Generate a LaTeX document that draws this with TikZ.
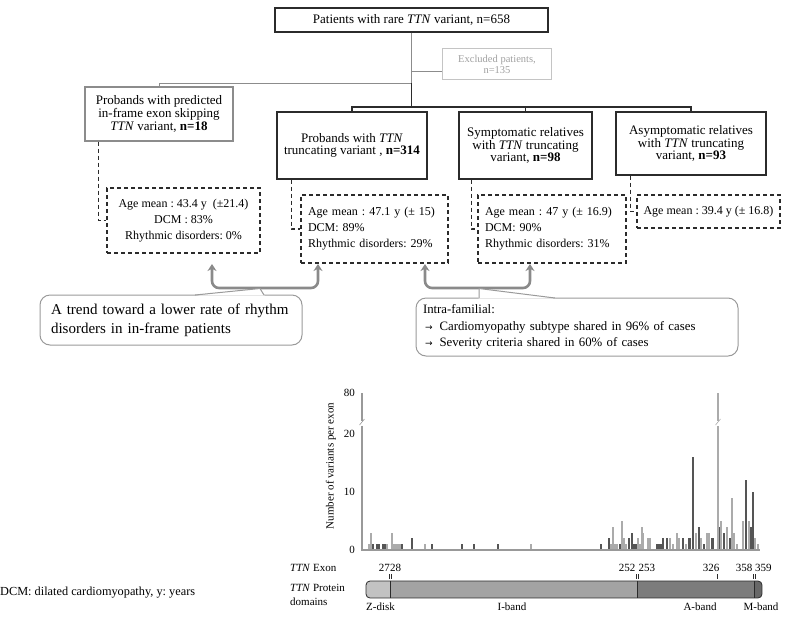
\documentclass[tikz,border=0pt]{standalone}
\usepackage{fontspec}
\setmainfont{Liberation Serif}
\newfontfamily\symfont{DejaVu Sans}
\usetikzlibrary{arrows.meta}
\frenchspacing
\definecolor{dk}{HTML}{2B2B2B}
\definecolor{gln}{HTML}{8C8C8C}
\definecolor{exb}{HTML}{C4C4C4}
\definecolor{ext}{HTML}{A0A0A0}
\definecolor{garr}{HTML}{8A8A8A}
\definecolor{cbd}{HTML}{9A9A9A}
\definecolor{barl}{HTML}{ABABAB}
\definecolor{bard}{HTML}{555555}
\definecolor{axc}{HTML}{999999}
\definecolor{zd}{HTML}{C2C2C2}
\definecolor{ib}{HTML}{A3A3A3}
\definecolor{ab}{HTML}{7C7C7C}
\definecolor{mb}{HTML}{686868}
\begin{document}
\begin{tikzpicture}[x=1pt,y=-1pt,
  solidbox/.style={draw=dk, line width=1.1pt, fill=white, align=center, inner sep=0pt, font=\fontsize{13}{12.7}\selectfont},
  graybox/.style={solidbox, draw=gln},
  exbox/.style={draw=exb, line width=1pt, align=center, inner sep=0pt, text=ext, font=\fontsize{10.5}{11}\selectfont},
  dbox/.style={draw=dk, line width=1.1pt, dash pattern=on 4pt off 3pt, inner sep=0pt, font=\fontsize{12}{16}\selectfont},
  dconn/.style={draw=dk, line width=1.1pt, dash pattern=on 4pt off 3pt},
  gline/.style={draw=gln, line width=1pt},
  kline/.style={draw=dk, line width=1.1pt},
  garrow/.style={draw=garr, line width=2.6pt, rounded corners=7pt, {Stealth[length=7pt,width=9pt]}-{Stealth[length=7pt,width=9pt]}},
  callout/.style={draw=cbd, line width=1pt, rounded corners=10pt, fill=white, inner ysep=0pt},
  cline/.style={draw=cbd, line width=1pt},
  barL/.style={draw=barl, line width=1.1pt},
  barD/.style={draw=bard, line width=1.1pt},
  axis/.style={draw=axc, line width=1.2pt},
  chartfont/.style={font=\fontsize{11}{13}\selectfont, inner sep=0pt}
]
\useasboundingbox (0,0) rectangle (786,619);

% ---- top part: flow boxes
\node[solidbox, minimum width=273pt, minimum height=24pt] (top) at (411.5,20) {Patients with rare \textit{TTN} variant, n=658};
\node[exbox, minimum width=109pt, minimum height=31pt] (ex) at (497,64) {Excluded patients,\\n=135};
\node[graybox, minimum width=148pt, minimum height=54pt] (lb) at (159,114) {Probands with predicted\\in-frame exon skipping\\\textit{TTN} variant, \textbf{n=18}};
\node[solidbox, minimum width=150pt, minimum height=67pt] (b2) at (352,145.5) {Probands with \textit{TTN}\\truncating variant , \textbf{n=314}};
\node[solidbox, minimum width=133pt, minimum height=67pt] (b3) at (525.5,145.5) {Symptomatic relatives\\with \textit{TTN} truncating\\variant, \textbf{n=98}};
\node[solidbox, minimum width=150pt, minimum height=63pt] (b4) at (691,143.5) {Asymptomatic relatives\\with \textit{TTN} truncating\\variant, \textbf{n=93}};

% tree connectors
\coordinate (j1) at (top.south |- 0,83);
\coordinate (j2) at (top.south |- 0,107);
\draw[gline] (top.south) -- (j1) -| (lb.north);
\draw[gline] (top.south |- 0,71) -- (ex.west |- 0,71);
\draw[kline] (j1) -- (j2);
\draw[kline] (b2.north) -- (b2.north |- j2) -- (b4.north |- j2) -- (b4.north);
\draw[kline] (b3.north) -- (b3.north |- j2);

% dashed boxes
\node[dbox, minimum width=153pt, minimum height=65pt, align=center] (d1) at (183.5,220.5) {Age mean : 43.4 y~~(±21.4)\\DCM : 83\%\\Rhythmic disorders: 0\%};
\node[dbox, text width=133pt, inner xsep=7pt, minimum height=68pt, align=left] (d2) at (374.5,229) {Age mean : 47.1 y (± 15)\\DCM: 89\%\\Rhythmic disorders: 29\%};
\node[dbox, text width=134pt, inner xsep=7pt, minimum height=68pt, align=left] (d3) at (552,229) {Age mean : 47 y (± 16.9)\\DCM: 90\%\\Rhythmic disorders: 31\%};
\node[dbox, minimum width=143pt, minimum height=33pt, align=center] (d4) at (708.5,211.5) {Age mean : 39.4 y (± 16.8)};

\draw[dconn] ([xshift=14pt]lb.south west) |- (d1.west);
\draw[dconn] ([xshift=15pt]b2.south west) |- (d2.west);
\draw[dconn] ([xshift=13pt]b3.south west) |- (d3.west);
\draw[dconn] ([xshift=15pt]b4.south west) |- (d4.west);

% gray double arrows
\coordinate (a1) at (212,264);
\coordinate (a2) at (318,264);
\coordinate (a3) at (425,264);
\coordinate (a4) at (530,264);
\draw[garrow] (a1) -- (a1 |- 0,288) -- (a2 |- 0,288) -- (a2);
\draw[garrow] (a3) -- (a3 |- 0,288) -- (a4 |- 0,288) -- (a4);

% callouts
\node[callout, minimum width=262pt, minimum height=50pt, text width=252pt, inner xsep=5pt, align=left, font=\fontsize{15}{19}\selectfont] (c1) at (171,320) {\hspace*{6pt}A trend toward a lower rate of rhythm\\\hspace*{6pt}disorders in in-frame patients};
\fill[white] (195.5,295.6) -- (260,288.5) -- (264.5,295.6) -- cycle;
\draw[cline] (195,295) -- (260,288.5) -- (264,295);

\node[callout, minimum width=322pt, minimum height=58pt, text width=308pt, inner xsep=7pt, align=left, font=\fontsize{12.8}{16.5}\selectfont] (c2) at (577,327) {Intra-familial:\\\hspace*{2pt}{\symfont\fontsize{9}{16}\selectfont →}\hspace{7pt}Cardiomyopathy subtype shared in 96\% of cases\\\hspace*{2pt}{\symfont\fontsize{9}{16}\selectfont →}\hspace{7pt}Severity criteria shared in 60\% of cases};
\fill[white] (478.5,298.6) -- (479,288.5) -- (555.5,298.6) -- cycle;
\draw[cline] (479,298) -- (479,288.5) -- (555,298);

% ---- bar chart
\foreach \x/\v/\c in {369/1/L, 371/3/L, 373/1/D, 377/1/D, 379/1/D, 383/1/D, 385/1/D, 387/1/L, 392/3/L, 394/1/L, 396/1/L, 398/1/L, 400/1/L, 402/1/D, 412/2/D, 425/1/L, 432/1/D, 462/1/D, 474/1/D, 498/1/D, 531/1/L, 601/1/D, 609/2/D, 611/1/L, 613/4/L, 615/1/L, 617/1/L, 620/1/D, 622/5/L, 624/2/L, 626/1/L, 629/2/D, 632/3/D, 634/1/D, 636/1/D, 638/2/L, 640/1/L, 642/4/L, 643/3/L, 648/2/L, 650/2/L, 657/1/D, 659/1/D, 661/1/D, 663/2/D, 667/2/D, 670/2/L, 673/1/L, 677/3/L, 679/2/L, 683/2/D, 686/1/L, 689/2/D, 690/2/D, 693/16/D, 696/3/L, 699/4/D, 701/2/L, 704/1/D, 707/3/L, 709/3/L, 712/2/D, 713/2/D, 720/4/D, 721/5/L, 724/3/D, 727/4/L, 730/2/D, 732/9/L, 734/3/L, 737/1/L, 743/5/L, 746/12/D, 749/5/L, 751/4/D, 753/10/D, 755/2/L, 758/1/L}
  \draw[bar\c] (\x,550) -- (\x,{550-5.8*\v});
% tall broken bar (exon 326)
\draw[barL, line width=1.6pt] (718,550) -- (718,425.5);
\draw[barL, line width=1.6pt] (718,420.5) -- (718,393);
\draw[barL, line width=0.6pt] (715.5,425) -- (720.5,419);

% axes
\draw[axis] (362,425.5) -- (362,550) -- (760,550);
\draw[axis] (362,420.5) -- (362,393);
\draw[axis, line width=0.6pt] (359.5,425) -- (364.5,419);
\node[chartfont, anchor=east] (t0) at (355,550) {0};
\node[chartfont, anchor=east] (t10) at (355,492) {10};
\node[chartfont, anchor=east] (t20) at (355,434) {20};
\node[chartfont, anchor=east] (t80) at (355,393) {80};
\node[chartfont, rotate=90] (ylab) at (331,466) {Number of variants per exon};

% protein domains bar
\begin{scope}
  \clip[rounded corners=4pt] (366,581) rectangle (762,598);
  \fill[zd] (366,581) rectangle (390,598);
  \fill[ib] (390,581) rectangle (637,598);
  \fill[ab] (637,581) rectangle (754,598);
  \fill[mb] (754,581) rectangle (762,598);
\end{scope}
\draw[draw=dk, line width=0.8pt, rounded corners=4pt] (366,581) rectangle (762,598);
\foreach \x in {390,637,754} \draw[draw=dk, line width=0.8pt] (\x,581) -- (\x,598);
% exon tick marks
\foreach \x in {389,391,636,638,717.5,753,755} \draw[draw=dk, line width=0.5pt] (\x,574) -- (\x,579);

\node[chartfont, anchor=east] (e27) at (390,568) {27};
\node[chartfont, anchor=west] (e28) at (390,568) {28};
\node[chartfont, anchor=east] (e252) at (635.5,568) {252};
\node[chartfont, anchor=west] (e253) at (638.5,568) {253};
\node[chartfont] (e326) at (711,568) {326};
\node[chartfont, anchor=east] (e358) at (752.5,568) {358};
\node[chartfont, anchor=west] (e359) at (755,568) {359};

\node[chartfont, anchor=west] (zdl) at (366,607) {Z-disk};
\node[chartfont] (ibl) at (512,607) {I-band};
\node[chartfont] (abl) at (700,607) {A-band};
\node[chartfont] (mbl) at (761,607) {M-band};

\node[chartfont, anchor=west] (rowex) at (290,568) {\textit{TTN} Exon};
\node[chartfont, anchor=west, align=left, font=\fontsize{11}{14}\selectfont] (rowpd) at (290,595) {\textit{TTN} Protein\\domains};

\node[anchor=west, inner sep=0pt, font=\fontsize{12.3}{14}\selectfont] (legend) at (0,593) {DCM: dilated cardiomyopathy, y: years};
\end{tikzpicture}
\end{document}
